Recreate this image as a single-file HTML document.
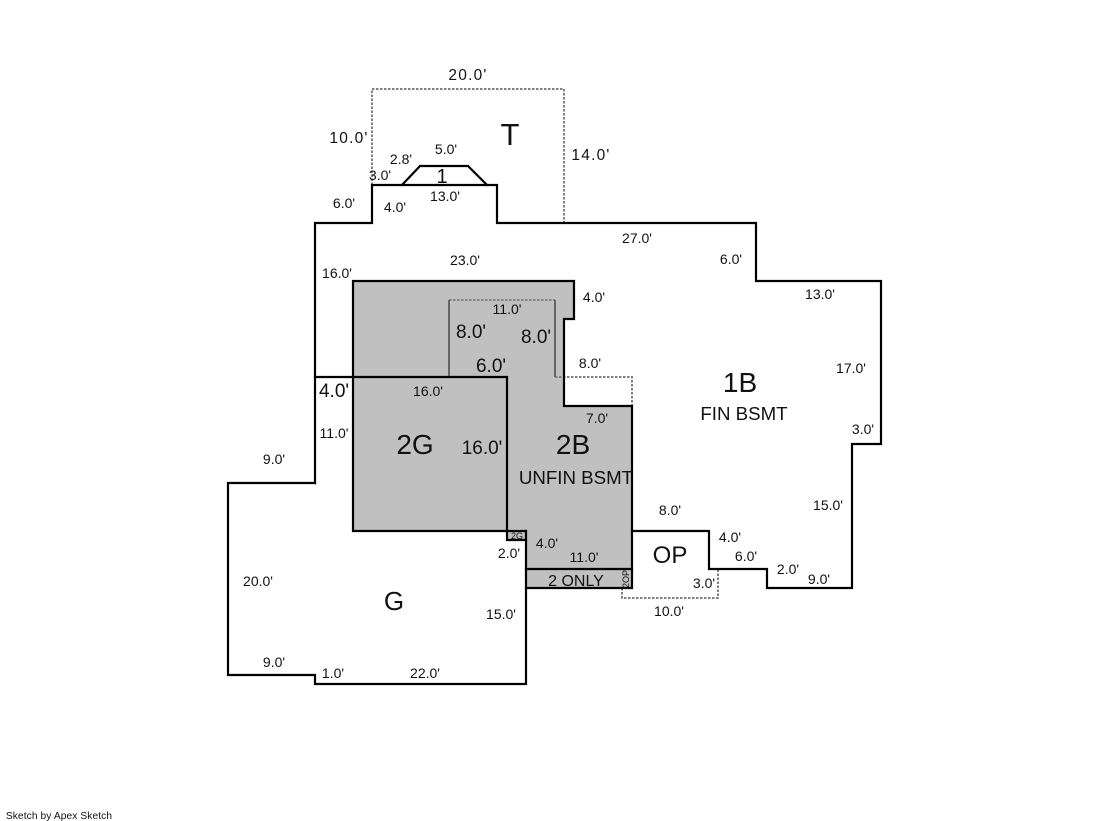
<!DOCTYPE html>
<html>
<head>
<meta charset="utf-8">
<style>
html,body{margin:0;padding:0;background:#fff;width:1119px;height:821px;overflow:hidden}
svg{display:block}
text{font-family:"Liberation Sans",Arial,sans-serif;fill:#111;text-anchor:middle}
.s{font-size:14px}
.m{font-size:19px}
.w{font-size:15.5px;letter-spacing:1.2px}
.l{font-size:28px}
.b{font-size:18.7px}
</style>
</head>
<body>
<svg width="1119" height="821" viewBox="0 0 1119 821" xmlns="http://www.w3.org/2000/svg">
<!-- gray floors -->
<path d="M353 281H574V319H564V406H632V588H526V540H507V531H353Z" fill="#c0c0c0"/>
<rect x="507" y="531" width="19" height="9" fill="#c0c0c0"/>
<!-- dotted -->
<g fill="none" stroke="#808080" stroke-width="2" stroke-dasharray="2.5 1.5">
<path d="M372 185V89H564V223"/>
<path d="M449 300H555"/>
<path d="M555 377H632V406"/>
<path d="M622 588V598H718V569"/>
</g>
<path d="M449 377V300M555 300V377" fill="none" stroke="#666" stroke-width="2"/>
<!-- solid lines -->
<g fill="none" stroke="#000" stroke-width="2.2" stroke-linecap="square">
<path d="M315 483V223H372V185H497V223H756V281H881V444H852V588H767V569H709V531H632"/>
<path d="M315 483H228V675H315V684H526V531"/>
<path d="M402 185L420 166H468L487 185"/>
<path d="M353 377V281H574V319H564V406H632V588H526"/>
<path d="M315 377H507V540H526M353 377V531H526"/>
<path d="M526 569H632"/>
</g>
<!-- wide labels -->
<text class="w" x="468" y="80">20.0'</text>
<text class="w" x="349" y="143">10.0'</text>
<text class="w" x="591" y="160">14.0'</text>
<text x="510" y="145" style="font-size:31px">T</text>
<!-- small labels -->
<text class="s" x="401" y="164">2.8'</text>
<text class="s" x="446" y="154">5.0'</text>
<text class="s" x="380" y="180">3.0'</text>
<text x="442" y="183" style="font-size:20px">1</text>
<text class="s" x="445" y="201">13.0'</text>
<text class="s" x="344" y="208">6.0'</text>
<text class="s" x="395" y="212">4.0'</text>
<text class="s" x="637" y="243">27.0'</text>
<text class="s" x="731" y="264">6.0'</text>
<text class="s" x="465" y="265">23.0'</text>
<text class="s" x="337" y="278">16.0'</text>
<text class="s" x="820" y="299">13.0'</text>
<text class="s" x="594" y="302">4.0'</text>
<text class="s" x="507" y="314">11.0'</text>
<text class="m" x="471" y="338">8.0'</text>
<text class="m" x="536" y="343">8.0'</text>
<text class="m" x="491" y="372">6.0'</text>
<text class="s" x="590" y="368">8.0'</text>
<text class="s" x="851" y="373">17.0'</text>
<text class="m" x="334" y="397">4.0'</text>
<text class="s" x="428" y="396">16.0'</text>
<text class="s" x="597" y="423">7.0'</text>
<text class="s" x="863" y="434">3.0'</text>
<text class="s" x="334" y="438">11.0'</text>
<text class="s" x="274" y="464">9.0'</text>
<text class="m" x="482" y="454">16.0'</text>
<text class="s" x="828" y="510">15.0'</text>
<text class="s" x="670" y="515">8.0'</text>
<text class="s" x="730" y="542">4.0'</text>
<text class="s" x="547" y="548">4.0'</text>
<text class="s" x="509" y="558">2.0'</text>
<text class="s" x="584" y="562">11.0'</text>
<text class="s" x="746" y="561">6.0'</text>
<text class="s" x="788" y="574">2.0'</text>
<text class="s" x="819" y="584">9.0'</text>
<text class="s" x="704" y="588">3.0'</text>
<text class="s" x="258" y="586">20.0'</text>
<text class="s" x="501" y="619">15.0'</text>
<text class="s" x="669" y="616">10.0'</text>
<text class="s" x="274" y="667">9.0'</text>
<text class="s" x="333" y="678">1.0'</text>
<text class="s" x="425" y="678">22.0'</text>
<!-- area names -->
<text class="l" x="740" y="392">1B</text>
<text class="b" x="744" y="420">FIN BSMT</text>
<text class="l" x="415" y="454">2G</text>
<text class="l" x="573" y="454">2B</text>
<text class="b" x="576" y="484">UNFIN BSMT</text>
<text x="670" y="563" style="font-size:24px">OP</text>
<text x="394" y="610" style="font-size:26px">G</text>
<text x="576" y="586" style="font-size:16px">2 ONLY</text>
<text x="517" y="539" style="font-size:9px">2G</text>
<text transform="translate(629 579) rotate(-90)" style="font-size:9px" x="0" y="0">2OP</text>
<text x="59" y="819" style="font-size:10.2px;letter-spacing:.1px">Sketch by Apex Sketch</text>
</svg>
</body>
</html>
